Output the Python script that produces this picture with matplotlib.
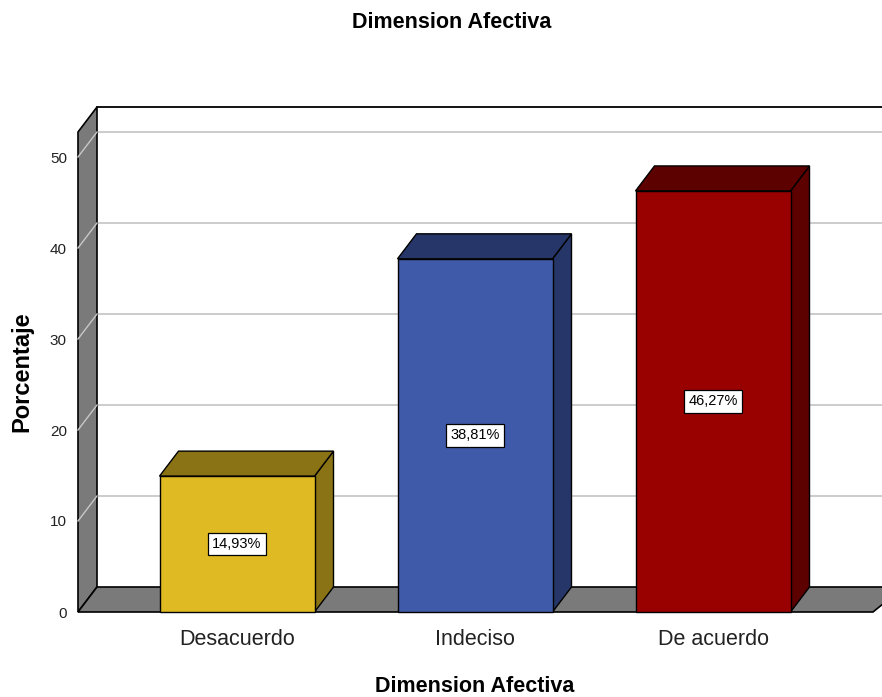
import matplotlib
matplotlib.use("Agg")
import matplotlib.pyplot as plt
from matplotlib.patches import Polygon

plt.rcParams['font.family'] = ['Liberation Sans', 'DejaVu Sans']

# ---- data ----
categories = ["Desacuerdo", "Indeciso", "De acuerdo"]
values = [14.93, 38.81, 46.27]
value_labels = ["14,93%", "38,81%", "46,27%"]
yticks = [0, 10, 20, 30, 40, 50]
title = "Dimension Afectiva"
xlabel = "Dimension Afectiva"
ylabel = "Porcentaje"

front_colors = ["#E0BA22", "#3F5AA8", "#990000"]
dark_colors = ["#8A7315", "#263668", "#5C0000"]

# ---- layout ----
W, H = 882, 697
fig = plt.figure(figsize=(W / 100, H / 100), dpi=100)
ax_left, ax_right = 78, 882
ax_bottom_px, ax_top_px = 612, 132  # pixel rows (from top)
ax = fig.add_axes([ax_left / W, (H - ax_bottom_px) / H,
                   (ax_right - ax_left) / W, (ax_bottom_px - ax_top_px) / H])

px_per_unit = 9.1
ymax = (ax_bottom_px - ax_top_px) / px_per_unit
cat_spacing_px = 238
first_center_px = 237
x0 = (ax_left - first_center_px) / cat_spacing_px
x1 = (ax_right - first_center_px) / cat_spacing_px
ax.set_xlim(x0, x1)
ax.set_ylim(0, ymax)

dx = 19 / cat_spacing_px
dy = 25 / px_per_unit
half_w = 77.5 / cat_spacing_px

kw = dict(clip_on=False)

# back wall
ax.add_patch(Polygon([(x0 + dx, dy), (x1 + 0.2, dy), (x1 + 0.2, ymax + dy), (x0 + dx, ymax + dy)],
                     closed=True, facecolor="white", edgecolor="none", zorder=1, **kw))
# gridlines on back wall and left wall
for t in yticks[1:]:
    ax.plot([x0 + dx, x1 + 0.2], [t + dy, t + dy], color="#c8c8c8", lw=1.3, zorder=2, **kw)
# left wall
ax.add_patch(Polygon([(x0, 0), (x0 + dx, dy), (x0 + dx, ymax + dy), (x0, ymax)],
                     closed=True, facecolor="#7a7a7a", edgecolor="black", lw=1.2, zorder=3, **kw))
for t in yticks[1:]:
    ax.plot([x0, x0 + dx], [t, t + dy], color="#c8c8c8", lw=1.0, zorder=4, **kw)
# top border of back wall
ax.plot([x0 + dx, x1 + 0.2], [ymax + dy, ymax + dy], color="black", lw=1.3, zorder=4, **kw)
# floor
floor_right_front = (873 - first_center_px) / cat_spacing_px
ax.add_patch(Polygon([(x0, 0), (x0 + dx, dy), (floor_right_front + dx + 0.05, dy), (floor_right_front, 0)],
                     closed=True, facecolor="#7a7a7a", edgecolor="black", lw=1.2, zorder=5, **kw))

# bars
for i, (v, fc, dc, lab) in enumerate(zip(values, front_colors, dark_colors, value_labels)):
    xl, xr = i - half_w, i + half_w
    front = Polygon([(xl, 0), (xr, 0), (xr, v), (xl, v)], closed=True,
                    facecolor=fc, edgecolor="black", lw=1.0, zorder=10, **kw)
    top = Polygon([(xl, v), (xr, v), (xr + dx, v + dy), (xl + dx, v + dy)], closed=True,
                  facecolor=dc, edgecolor="black", lw=1.0, zorder=9, **kw)
    side = Polygon([(xr, 0), (xr + dx, dy), (xr + dx, v + dy), (xr, v)], closed=True,
                   facecolor=dc, edgecolor="black", lw=1.0, zorder=9, **kw)
    for p in (side, top, front):
        ax.add_patch(p)
    ax.text(i, v / 2, lab, ha="center", va="center", fontsize=10.5, zorder=12,
            bbox=dict(boxstyle="square,pad=0.3", facecolor="white", edgecolor="black", lw=0.9))

# axes styling
for s in ax.spines.values():
    s.set_visible(False)
ax.set_yticks(yticks)
ax.set_yticklabels([str(t) for t in yticks], fontsize=11, color="#222222")
ax.tick_params(axis="y", length=0, pad=8)
ax.set_xticks(range(len(categories)))
ax.set_xticklabels(categories, fontsize=15.5, color="#222222")
ax.tick_params(axis="x", length=0, pad=12)
ax.patch.set_visible(False)

fig.text(452 / W, 1 - 22 / H, title, ha="center", va="center", fontsize=15.5, fontweight="bold")
fig.text(475 / W, 1 - 686 / H, xlabel, ha="center", va="center", fontsize=15.5, fontweight="bold")
fig.text(22 / W, 1 - 372 / H, ylabel, ha="center", va="center", fontsize=17, fontweight="bold", rotation=90)

fig.savefig("out.png", dpi=100)
